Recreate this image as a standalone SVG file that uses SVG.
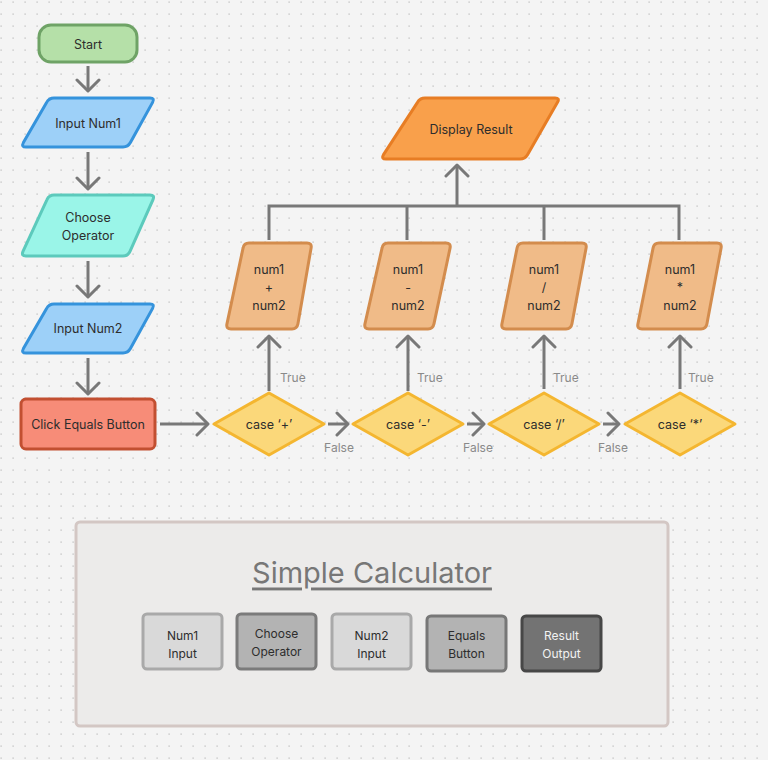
<svg xmlns="http://www.w3.org/2000/svg" width="768" height="760" viewBox="0 0 768 760">
<defs>
<pattern id="dots" x="0" y="1" width="12" height="12" patternUnits="userSpaceOnUse">
<rect x="0.5" y="0.5" width="1.2" height="1.2" fill="#b8b8b8"/>
</pattern>
<marker id="arr" markerUnits="userSpaceOnUse" markerWidth="26" markerHeight="28" viewBox="0 0 26 28" refX="13" refY="14" orient="auto">
<path d="M2,3 L13,14 L2,25" fill="none" stroke="#787878" stroke-width="3" stroke-linecap="round" stroke-linejoin="round"/>
</marker>
<style>
text{font-family:Inter,"Noto Sans","Liberation Sans",sans-serif;font-size:12.5px;fill:#2d2d2d;text-anchor:middle;dominant-baseline:central}
.lbl{fill:#8a8a8a;font-size:12px}
.lblL{fill:#8a8a8a;font-size:12px;text-anchor:start}
.c{fill:none;stroke:#787878;stroke-width:3}
.ca{fill:none;stroke:#787878;stroke-width:3;marker-end:url(#arr)}
.n{stroke-width:3;stroke-linejoin:round}
.op{fill:#f0bb88;stroke:#d38c4d}
.dia{fill:#fbd87a;stroke:#f4b630}
.lg{stroke-width:3}
.sm{font-size:12px}
</style>
</defs>
<rect width="768" height="760" fill="#f4f4f4"/>
<rect width="768" height="760" fill="url(#dots)"/>

<g id="connectors">
<path class="ca" d="M88,66 V91"/>
<path class="ca" d="M88,152 V189"/>
<path class="ca" d="M88,261 V297"/>
<path class="ca" d="M88,358 V394"/>
<path class="ca" d="M160,424 H208"/>
<path class="ca" d="M328,424 H348"/>
<path class="ca" d="M467,424 H484"/>
<path class="ca" d="M603,424 H619"/>
<path class="ca" d="M269,391 V336"/>
<path class="ca" d="M408,391 V336"/>
<path class="ca" d="M544,389 V336"/>
<path class="ca" d="M680,389 V336"/>
<path class="c" d="M269,240 V206 H679 V240 M407,240 V206 M544,240 V206"/>
<path class="ca" d="M457,206 V165"/>
<text class="lblL" x="280" y="377">True</text>
<text class="lblL" x="417" y="377">True</text>
<text class="lblL" x="553" y="377">True</text>
<text class="lblL" x="688" y="377">True</text>
<text class="lbl" x="339" y="447">False</text>
<text class="lbl" x="478" y="447">False</text>
<text class="lbl" x="613" y="447">False</text>
</g>

<g id="start">
<rect class="n" x="39" y="25" width="98" height="37" rx="12" fill="#b5e0a8" stroke="#6fa366"/>
<text x="88" y="44">Start</text>
</g>
<g id="input-num1">
<path class="n" d="M54,98 H150 Q155,98 152.6,102.4 L130.4,142.6 Q128,147 123,147 H26 Q21,147 23.4,142.6 L46.6,102.4 Q49,98 54,98 Z" fill="#9dd0f8" stroke="#3593dc"/>
<text x="88" y="123">Input Num1</text>
</g>
<g id="choose-operator">
<path class="n" d="M54,195 H150 Q155,195 153,199.6 L130,251.4 Q128,256 123,256 H26 Q21,256 23,251.4 L47,199.6 Q49,195 54,195 Z" fill="#9af5e8" stroke="#5ccabc"/>
<text x="88" y="217">Choose</text>
<text x="88" y="235">Operator</text>
</g>
<g id="input-num2">
<path class="n" d="M54,304 H150 Q155,304 152.6,308.4 L130.4,348.6 Q128,353 123,353 H26 Q21,353 23.4,348.6 L46.6,308.4 Q49,304 54,304 Z" fill="#9dd0f8" stroke="#3593dc"/>
<text x="88" y="328">Input Num2</text>
</g>
<g id="click-equals">
<rect class="n" x="21" y="399" width="134" height="50" rx="5" fill="#f78c78" stroke="#c24f31"/>
<text x="88" y="424">Click Equals Button</text>
</g>

<g id="case-plus">
<path class="n dia" d="M214,424 L269,393 L324,424 L269,455 Z"/>
<text x="269" y="424">case ‘+’</text>
</g>
<g id="case-minus">
<path class="n dia" d="M353,424 L408,393 L463,424 L408,455 Z"/>
<text x="408" y="424">case ‘-’</text>
</g>
<g id="case-div">
<path class="n dia" d="M489,424 L544,393 L599,424 L544,455 Z"/>
<text x="544" y="424">case ‘/’</text>
</g>
<g id="case-mul">
<path class="n dia" d="M625,424 L680,393 L735,424 L680,455 Z"/>
<text x="680" y="424">case ‘*’</text>
</g>

<g id="op-plus">
<path class="n op" d="M249,243 H307 Q312,243 311.1,247.9 L297.9,324.1 Q297,329 292,329 H231 Q226,329 226.9,324.1 L243.1,247.9 Q244,243 249,243 Z"/>
<text x="269" y="269">num1</text><text x="269" y="287">+</text><text x="269" y="305">num2</text>
</g>
<g id="op-minus">
<path class="n op" d="M388,243 H446 Q451,243 450.1,247.9 L433.9,324.1 Q433,329 428,329 H369 Q364,329 364.9,324.1 L382.1,247.9 Q383,243 388,243 Z"/>
<text x="408" y="269">num1</text><text x="408" y="287">-</text><text x="408" y="305">num2</text>
</g>
<g id="op-div">
<path class="n op" d="M523,243 H582 Q587,243 586.1,247.9 L571.9,324.1 Q571,329 566,329 H506 Q501,329 501.9,324.1 L517.1,247.9 Q518,243 523,243 Z"/>
<text x="544" y="269">num1</text><text x="544" y="287">/</text><text x="544" y="305">num2</text>
</g>
<g id="op-mul">
<path class="n op" d="M659,243 H717 Q722,243 721.1,247.9 L706.9,324.1 Q706,329 701,329 H642 Q637,329 637.9,324.1 L653.1,247.9 Q654,243 659,243 Z"/>
<text x="680" y="269">num1</text><text x="680" y="287">*</text><text x="680" y="305">num2</text>
</g>

<g id="display-result">
<path class="n" d="M425,98 H555 Q560,98 557.5,102.35 L527.5,154.65 Q525,159 520,159 H386 Q381,159 383.5,154.65 L417.5,102.35 Q420,98 425,98 Z" fill="#f9a04b" stroke="#e77d24"/>
<text x="471" y="129">Display Result</text>
</g>

<g id="legend">
<rect x="76" y="522" width="592" height="204" rx="4" fill="#ecebea" stroke="#d3c7c4" stroke-width="3"/>
<text x="372" y="572" style="font-size:29px;fill:#777777;text-decoration:underline">Simple Calculator</text>
<g id="lg-num1">
<rect class="lg" x="143" y="614" width="79" height="55" rx="4" fill="#d9d9d9" stroke="#a9a9a9"/>
<text class="sm" x="182.5" y="635">Num1</text><text class="sm" x="182.5" y="653">Input</text>
</g>
<g id="lg-op">
<rect class="lg" x="237" y="614" width="79" height="55" rx="4" fill="#b3b3b3" stroke="#7b7b7b"/>
<text class="sm" x="276.5" y="633">Choose</text><text class="sm" x="276.5" y="651">Operator</text>
</g>
<g id="lg-num2">
<rect class="lg" x="332" y="614" width="79" height="55" rx="4" fill="#d9d9d9" stroke="#a9a9a9"/>
<text class="sm" x="371.5" y="635">Num2</text><text class="sm" x="371.5" y="653">Input</text>
</g>
<g id="lg-eq">
<rect class="lg" x="427" y="616" width="79" height="55" rx="4" fill="#b3b3b3" stroke="#777777"/>
<text class="sm" x="466.5" y="635">Equals</text><text class="sm" x="466.5" y="653">Button</text>
</g>
<g id="lg-res">
<rect class="lg" x="522" y="616" width="79" height="55" rx="4" fill="#737373" stroke="#474747"/>
<text class="sm" x="561.5" y="635" style="fill:#f2f2f2">Result</text><text class="sm" x="561.5" y="653" style="fill:#f2f2f2">Output</text>
</g>
</g>
</svg>
